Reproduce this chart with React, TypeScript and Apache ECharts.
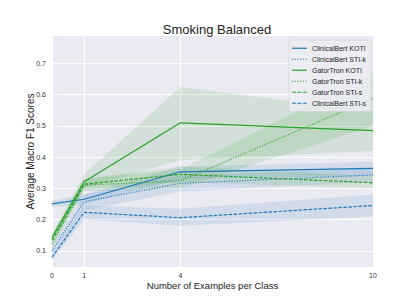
import React, { useEffect, useRef } from "react";
import * as echarts from "echarts";

const xs = [0, 1, 4, 10];
const xTicks = [0, 1, 4, 10];
const yTicks = [0.1, 0.2, 0.3, 0.4, 0.5, 0.6, 0.7];

const names = [
  "ClinicalBert KOTI",
  "ClinicalBert STI-k",
  "GatorTron KOTI",
  "GatorTron STI-k",
  "GatorTron STI-s",
  "ClinicalBert STI-s",
];

const cbKoti = [0.25, 0.265, 0.353, 0.364];
const cbStiK = [0.1, 0.257, 0.316, 0.343];
const gtKoti = [0.143, 0.321, 0.51, 0.485];
const gtStiK = [0.121, 0.31, 0.324, 0.588];
const gtStiS = [0.134, 0.313, 0.345, 0.318];
const cbStiS = [0.079, 0.223, 0.206, 0.245];

const cbKotiLo = [0.24, 0.25, 0.33, 0.34];
const cbKotiHi = [0.26, 0.28, 0.37, 0.385];
const cbStiKLo = [0.085, 0.23, 0.29, 0.32];
const cbStiKHi = [0.115, 0.28, 0.34, 0.365];
const gtKotiLo = [0.13, 0.3, 0.39, 0.42];
const gtKotiHi = [0.155, 0.345, 0.625, 0.545];
const gtStiKLo = [0.11, 0.29, 0.3, 0.5];
const gtStiKHi = [0.135, 0.33, 0.36, 0.67];
const gtStiSLo = [0.125, 0.295, 0.32, 0.3];
const gtStiSHi = [0.145, 0.33, 0.37, 0.34];
const cbStiSLo = [0.07, 0.2, 0.18, 0.21];
const cbStiSHi = [0.09, 0.245, 0.235, 0.28];

const BLUE = "#1f77b4";
const GREEN = "#2ca02c";

const ICON_SOLID = "path://M0,0H15V1.2H0Z";
const ICON_DOT =
  "path://M0,0H1.2V1.2H0Z M2.7,0H3.9V1.2H2.7Z M5.4,0H6.6V1.2H5.4Z M8.1,0H9.3V1.2H8.1Z M10.8,0H12V1.2H10.8Z M13.8,0H15V1.2H13.8Z";
const ICON_DASH = "path://M0,0H4V1.2H0Z M5.5,0H9.5V1.2H5.5Z M11,0H15V1.2H11Z";

const seriesDefs = [
  { name: names[0], values: cbKoti, lo: cbKotiLo, hi: cbKotiHi, color: BLUE, type: "solid", icon: ICON_SOLID },
  { name: names[1], values: cbStiK, lo: cbStiKLo, hi: cbStiKHi, color: BLUE, type: [1, 1.6], icon: ICON_DOT },
  { name: names[2], values: gtKoti, lo: gtKotiLo, hi: gtKotiHi, color: GREEN, type: "solid", icon: ICON_SOLID },
  { name: names[3], values: gtStiK, lo: gtStiKLo, hi: gtStiKHi, color: GREEN, type: [1, 1.6], icon: ICON_DOT },
  { name: names[4], values: gtStiS, lo: gtStiSLo, hi: gtStiSHi, color: GREEN, type: [3.5, 1.5], icon: ICON_DASH },
  { name: names[5], values: cbStiS, lo: cbStiSLo, hi: cbStiSHi, color: BLUE, type: [3.5, 1.5], icon: ICON_DASH },
];

const FONT = "Liberation Sans, Arial, sans-serif";

export default function App() {
  const ref = useRef<HTMLDivElement>(null);
  useEffect(() => {
    if (!ref.current) return;
    const chart = echarts.init(ref.current, null, { renderer: "svg" });

    const bandSeries = seriesDefs.map((s) => ({
      type: "custom",
      silent: true,
      z: 1,
      data: xs.map((x, i) => [x, s.lo[i], s.hi[i]]),
      encode: { x: 0, y: [1, 2] },
      renderItem: (params: any, api: any) => {
        if (params.dataIndex !== 0) return null;
        const upper = xs.map((x, i) => api.coord([x, s.hi[i]]));
        const lower = xs.map((x, i) => api.coord([x, s.lo[i]])).reverse();
        return {
          type: "polygon",
          shape: { points: upper.concat(lower) },
          style: { fill: s.color, opacity: 0.12 },
        };
      },
    }));

    const lineSeries = seriesDefs.map((s) => ({
      name: s.name,
      type: "line",
      z: 3,
      symbol: "none",
      data: xs.map((x, i) => [x, s.values[i]]),
      lineStyle: { color: s.color, width: 1.2, type: s.type },
      itemStyle: { color: s.color },
    }));

    chart.setOption({
      animation: false,
      backgroundColor: "#ffffff",
      textStyle: { fontFamily: FONT },
      title: {
        text: "Smoking Balanced",
        left: 212,
        top: 18,
        textAlign: "center",
        textStyle: { fontSize: 13, fontWeight: "normal", color: "#222", fontFamily: FONT },
      },
      grid: { left: 52, right: 42, top: 36, bottom: 35, show: true, backgroundColor: "#eaeaf2", borderWidth: 0 },
      legend: {
        data: seriesDefs.map((s) => ({ name: s.name, icon: s.icon, itemStyle: { color: s.color } })),
        orient: "vertical",
        right: 44,
        top: 40,
        itemWidth: 15,
        itemHeight: 1.2,
        itemGap: 2.5,
        padding: [4, 5, 4, 3],
        backgroundColor: "rgba(236,236,243,0.85)",
        borderColor: "#cccccc",
        borderWidth: 0.6,
        borderRadius: 2,
        textStyle: { fontSize: 7, color: "#222", fontFamily: FONT, lineHeight: 8.5 },
      },
      xAxis: {
        type: "value",
        min: 0,
        max: 10,
        name: "Number of Examples per Class",
        nameLocation: "middle",
        nameGap: 13,
        nameMoveOverlap: false,
        nameTextStyle: { fontSize: 9.5, color: "#222" },
        axisLine: { show: false },
        axisTick: { show: false, customValues: xTicks },
        axisLabel: { customValues: xTicks, fontSize: 7, color: "#333", margin: 5 },
        splitLine: { show: true, lineStyle: { color: "#ffffff", width: 1 } },
      },
      yAxis: {
        type: "value",
        min: 0.048,
        max: 0.788,
        name: "Average Macro F1 Scores",
        nameLocation: "middle",
        nameGap: 17,
        nameMoveOverlap: false,
        nameTextStyle: { fontSize: 10, color: "#222" },
        axisLine: { show: false },
        axisTick: { show: false, customValues: yTicks },
        axisLabel: { customValues: yTicks, fontSize: 7, color: "#333", margin: 6, formatter: (v: number) => v.toFixed(1) },
        splitLine: { show: true, lineStyle: { color: "#ffffff", width: 1 } },
      },
      series: [...bandSeries, ...lineSeries],
    });
    return () => chart.dispose();
  }, []);
  return <div ref={ref} style={{ width: 415, height: 302, position: "absolute", left: 0, top: 0 }} />;
}
